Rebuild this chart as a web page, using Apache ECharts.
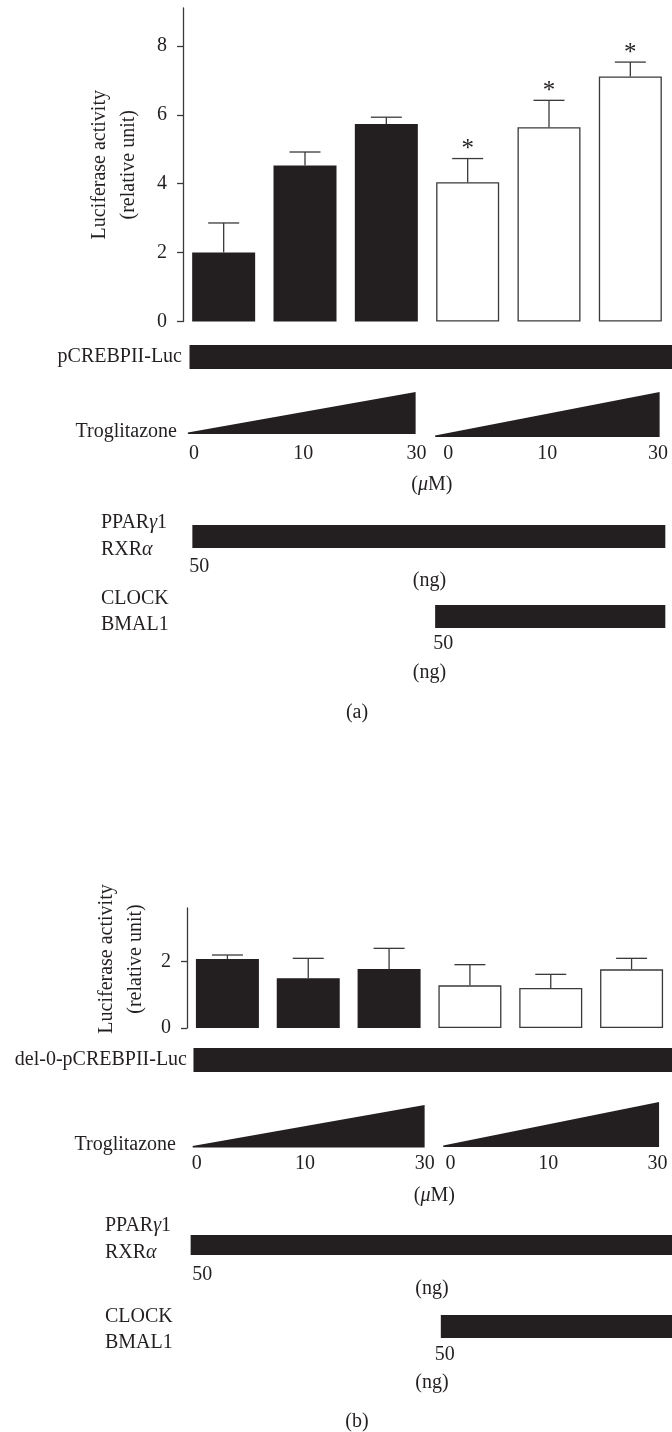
<!DOCTYPE html>
<html>
<head>
<meta charset="utf-8">
<script src="https://cdn.jsdelivr.net/npm/echarts@6/dist/echarts.min.js"></script>
<style>
  html, body { margin: 0; padding: 0; background: #fff; }
  #chart { width: 672px; height: 1432px; }
</style>
</head>
<body>
<div id="chart"></div>
<script>
// troglitazone dose (uM) per bar, first three without CLOCK/BMAL1, last three with it
var doses = ['0', '10', '30', '0', '10', '30']
var categories = ['0 uM', '10 uM', '30 uM', '0 uM + CLOCK/BMAL1', '10 uM + CLOCK/BMAL1', '30 uM + CLOCK/BMAL1']
var withClock = [0, 0, 0, 1, 1, 1]

// (a) pCREBPII-Luc
var meanA = [2.0, 4.53, 5.73, 4.04, 5.64, 7.11]
var errA = [0.86, 0.39, 0.20, 0.69, 0.78, 0.42]
var sigA = [0, 0, 0, 1, 1, 1]
var yTicksA = [0, 2, 4, 6, 8]

// (b) del-0-pCREBPII-Luc
var meanB = [2.07, 1.49, 1.77, 1.28, 1.20, 1.76]
var errB = [0.12, 0.60, 0.62, 0.62, 0.41, 0.33]
var sigB = [0, 0, 0, 0, 0, 0]
var yTicksB = [0, 2]

var INK = '#231f20'
var LINE = '#3a3a3a'
var FONT = 'Liberation Serif'

var myChart = echarts.init(document.getElementById('chart'))

function barData (means) {
  return means.map(function (v, i) {
    return {
      value: v,
      itemStyle: withClock[i]
        ? { color: '#fff', borderColor: LINE, borderWidth: 1.3 }
        : { color: INK }
    }
  })
}

function errData (means, errs, sig) {
  return means.map(function (v, i) { return [i, v, v + errs[i], sig[i]] })
}

// error bar + cap + significance star
function renderErr (params, api) {
  var i = api.value(0)
  var top = api.coord([i, api.value(1)])
  var hi = api.coord([i, api.value(2)])
  var half = 15.5
  var ls = { stroke: LINE, lineWidth: 1.3 }
  var kids = [
    { type: 'line', shape: { x1: top[0], y1: top[1], x2: hi[0], y2: hi[1] }, style: ls },
    { type: 'line', shape: { x1: hi[0] - half, y1: hi[1], x2: hi[0] + half, y2: hi[1] }, style: ls }
  ]
  if (api.value(3)) {
    kids.push({
      type: 'text',
      x: hi[0],
      y: hi[1] - 9,
      style: { text: '*', fill: INK, fontFamily: FONT, fontSize: 25, align: 'center', verticalAlign: 'middle' }
    })
  }
  return { type: 'group', children: kids }
}

function yAxisOf (gridIndex, max, ticks, gap, pad) {
  return {
    type: 'value',
    gridIndex: gridIndex,
    min: 0,
    max: max,
    interval: 2,
    name: 'Luciferase activity\n(relative unit)',
    nameLocation: 'middle',
    nameRotate: 90,
    nameGap: gap,
    nameTextStyle: { color: INK, fontFamily: FONT, fontSize: 20, lineHeight: 29, padding: pad },
    axisLine: { show: true, lineStyle: { color: LINE, width: 1.3 } },
    axisTick: { show: true, length: 6, customValues: ticks, lineStyle: { color: LINE, width: 1.3 } },
    axisLabel: { customValues: ticks, margin: 16, color: INK, fontFamily: FONT, fontSize: 20 },
    splitLine: { show: false }
  }
}

function xAxisOf (gridIndex) {
  return {
    type: 'category',
    gridIndex: gridIndex,
    data: categories,
    axisLine: { show: false },
    axisTick: { show: false },
    axisLabel: { show: false }
  }
}

myChart.setOption({
  animation: false,
  grid: [
    { left: 183, top: 8, width: 488, height: 313.5 },
    { left: 187, top: 908, width: 490, height: 120 }
  ],
  xAxis: [xAxisOf(0), xAxisOf(1)],
  yAxis: [yAxisOf(0, 9.1, yTicksA, 40, 0), yAxisOf(1, 3.6, yTicksB, 34, [0, 0, 0, 18])],
  series: [
    { type: 'bar', xAxisIndex: 0, yAxisIndex: 0, barWidth: 63, data: barData(meanA) },
    { type: 'custom', xAxisIndex: 0, yAxisIndex: 0, renderItem: renderErr, data: errData(meanA, errA, sigA), z: 5 },
    { type: 'bar', xAxisIndex: 1, yAxisIndex: 1, barWidth: 63, data: barData(meanB) },
    { type: 'custom', xAxisIndex: 1, yAxisIndex: 1, renderItem: renderErr, data: errData(meanB, errB, sigB), z: 5 }
  ]
})

// treatment schematic below each panel, x positions in category units
function px (g, u) {
  var c0 = myChart.convertToPixel({ xAxisIndex: g }, 0)
  var c1 = myChart.convertToPixel({ xAxisIndex: g }, 1)
  var band = c1 - c0
  return c0 - band / 2 + u * band
}

function txt (text, x, y, align, extra) {
  var st = { text: text, fill: INK, fontFamily: FONT, fontSize: 20, align: align || 'center', verticalAlign: 'middle' }
  if (extra) for (var k in extra) st[k] = extra[k]
  return { type: 'text', x: x, y: y, style: st, silent: true }
}

var italic = { i: { fontStyle: 'italic', fontFamily: FONT, fontSize: 20, fill: INK } }

function rect (g, u0, u1, y0, y1) {
  var x0 = px(g, u0)
  var x1 = Math.min(px(g, u1), 672)
  return { type: 'rect', shape: { x: x0, y: y0, width: x1 - x0, height: y1 - y0 }, style: { fill: INK }, silent: true }
}

function wedge (g, u0, u1, yt, yb) {
  var x0 = px(g, u0)
  var x1 = px(g, u1)
  return { type: 'polygon', shape: { points: [[x0, yb - 1.5], [x1, yt], [x1, yb], [x0, yb]] }, style: { fill: INK }, silent: true }
}

function schematic (g, p) {
  var els = []
  els.push(txt(p.construct, p.constructX, p.constructY, 'right'))
  els.push(rect(g, p.constructU, 6.2, p.constructY - 12, p.constructY + 12))
  els.push(txt('Troglitazone', p.trogX, p.trogY, 'right'))
  els.push(wedge(g, p.w1[0], p.w1[1], p.w1[2], p.w1[3]))
  els.push(wedge(g, p.w2[0], p.w2[1], p.w2[2], p.w2[3]))
  doses.forEach(function (d, i) {
    els.push(txt(d, px(g, p.doseU[i]), p.doseY, 'center'))
  })
  els.push(txt('({i|μ}M)', px(g, 3.06), p.umY, 'center', { rich: italic }))
  els.push(txt('PPAR{i|γ}1', p.labX, p.pparY, 'left', { rich: italic }))
  els.push(txt('RXR{i|α}', p.labX, p.pparY + 27, 'left', { rich: italic }))
  els.push(rect(g, p.pparU[0], p.pparU[1], p.pparBar[0], p.pparBar[1]))
  els.push(txt('50', px(g, p.ppar50U), p.ppar50Y, 'center'))
  els.push(txt('(ng)', px(g, 3.03), p.ng1Y, 'center'))
  els.push(txt('CLOCK', p.labX, p.clockY, 'left'))
  els.push(txt('BMAL1', p.labX, p.clockY + 26, 'left'))
  els.push(rect(g, p.clockU[0], p.clockU[1], p.clockBar[0], p.clockBar[1]))
  els.push(txt('50', px(g, p.clock50U), p.clock50Y, 'center'))
  els.push(txt('(ng)', px(g, 3.03), p.ng2Y, 'center'))
  els.push(txt(p.tag, 357, p.tagY, 'center'))
  return els
}

var graphics = schematic(0, {
  construct: 'pCREBPII-Luc', constructX: 182, constructY: 357, constructU: 0.08,
  trogX: 177, trogY: 432,
  w1: [0.06, 2.86, 392, 434], w2: [3.1, 5.86, 392, 437],
  doseU: [0.135, 1.48, 2.87, 3.26, 4.48, 5.84], doseY: 454,
  umY: 485,
  labX: 101, pparY: 523,
  pparU: [0.115, 5.93], pparBar: [525, 548],
  ppar50U: 0.2, ppar50Y: 567, ng1Y: 581,
  clockY: 599, clockU: [3.1, 5.93], clockBar: [605, 628],
  clock50U: 3.2, clock50Y: 644, ng2Y: 673,
  tag: '(a)', tagY: 713
}).concat(schematic(1, {
  construct: 'del-0-pCREBPII-Luc', constructX: 187, constructY: 1060, constructU: 0.08,
  trogX: 176, trogY: 1145,
  w1: [0.07, 2.94, 1105, 1147.5], w2: [3.17, 5.84, 1102, 1147],
  doseU: [0.12, 1.46, 2.94, 3.26, 4.47, 5.82], doseY: 1164,
  umY: 1196,
  labX: 105, pparY: 1226,
  pparU: [0.045, 6.2], pparBar: [1235, 1255],
  ppar50U: 0.19, ppar50Y: 1275, ng1Y: 1289,
  clockY: 1317, clockU: [3.14, 6.2], clockBar: [1315, 1338],
  clock50U: 3.19, clock50Y: 1355, ng2Y: 1383,
  tag: '(b)', tagY: 1422
}))

myChart.setOption({ graphic: { elements: graphics } })
</script>
</body>
</html>
